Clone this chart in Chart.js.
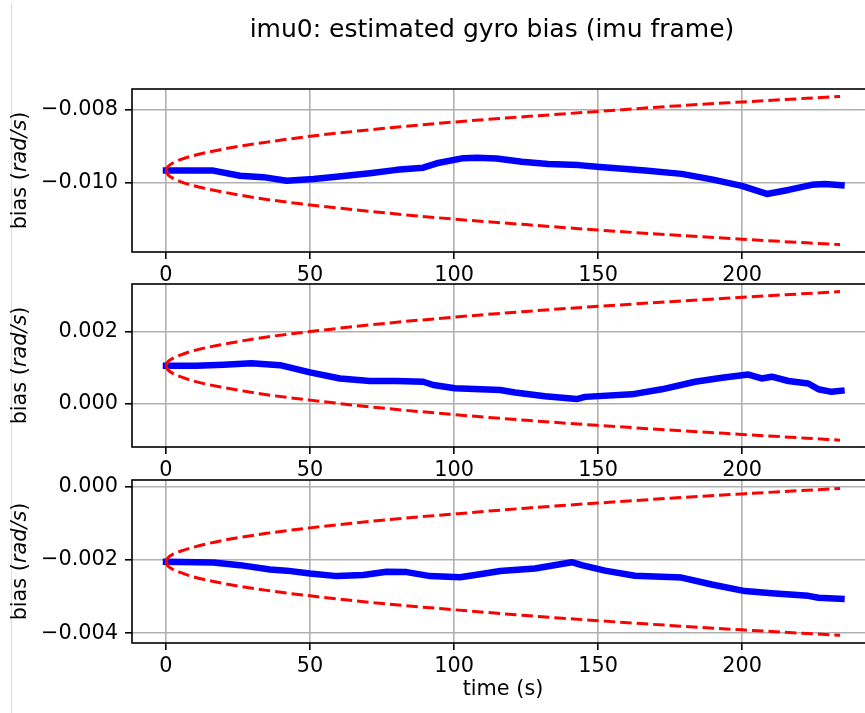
<!DOCTYPE html>
<html>
<head>
<meta charset="utf-8">
<script src="https://cdn.jsdelivr.net/npm/chart.js@4.4.1/dist/chart.umd.min.js"></script>
<style>
  html, body { margin: 0; padding: 0; background: #fff; overflow: hidden; }
  #wrap { position: relative; width: 865px; height: 713px; overflow: hidden; }
  #wrap canvas { position: absolute; left: 0; top: 0; }
  #edge { position: absolute; left: 11px; top: 3px; width: 0; height: 710px; border-left: 1px solid #dcdcdc; }
</style>
</head>
<body>
<div id="wrap">
  <div id="edge"></div>
  <canvas id="c1" width="900" height="713"></canvas>
  <canvas id="c2" width="900" height="713"></canvas>
  <canvas id="c3" width="900" height="713"></canvas>
</div>
<script>
// x ticks shared by all panels
const xTicks = [0, 50, 100, 150, 200];

// panel 1 - estimated bias (x)
const t1 = [0, 8, 16.4, 25.7, 33.8, 41.9, 51.2, 60, 70.8, 80.1, 89.3, 94, 103.2, 108, 114.8, 123.5, 132.7, 143.2, 150.7, 166.3, 179, 189.5, 199.9, 208.6, 216.1, 224.2, 228.8, 234.5];
const bias1 = [-0.00966, -0.00966, -0.00966, -0.00980, -0.00984, -0.00994, -0.00989, -0.00982, -0.00973, -0.00964, -0.00958, -0.00946, -0.00932, -0.00931, -0.00933, -0.00942, -0.00948, -0.00951, -0.00956, -0.00966, -0.00975, -0.00990, -0.01008, -0.01030, -0.01019, -0.01005, -0.01003, -0.01006];

// panel 2 - estimated bias (y)
const t2 = [0, 10.6, 20, 29.7, 39.6, 50, 60.4, 70.8, 80, 89.3, 92.8, 100.3, 116, 121.2, 131.6, 142.6, 145.5, 161.7, 172.1, 183.7, 193, 202.2, 206.8, 210.3, 216.1, 223, 226.5, 231.1, 234.5];
const bias2 = [0.00106, 0.00106, 0.00109, 0.00113, 0.00108, 0.00088, 0.00071, 0.00064, 0.00064, 0.00062, 0.00053, 0.00044, 0.00039, 0.00032, 0.00022, 0.00014, 0.00020, 0.00027, 0.00041, 0.00062, 0.00073, 0.00082, 0.00071, 0.00076, 0.00064, 0.00057, 0.00041, 0.00034, 0.00037];

// panel 3 - estimated bias (z)
const t3 = [0, 16.4, 25.7, 36.1, 41.9, 50, 59.3, 68.5, 76.6, 83.6, 91.7, 102.1, 109, 116, 128.1, 140.9, 144.3, 152.4, 162.8, 179, 189.5, 201, 210.3, 223, 226.5, 234.5];
const bias3 = [-0.00205, -0.00207, -0.00214, -0.00226, -0.00229, -0.00237, -0.00244, -0.00241, -0.00232, -0.00233, -0.00244, -0.00247, -0.00239, -0.00230, -0.00223, -0.00206, -0.00214, -0.00229, -0.00243, -0.00248, -0.00267, -0.00285, -0.00291, -0.00298, -0.00303, -0.00306];

// 3-sigma envelopes (red dashed)
const envT = [0, 0.5, 2, 5, 10, 20, 35, 50, 75, 100, 125, 150, 175, 200, 234];
const up1 = [-0.00966, -0.00957, -0.00947, -0.00936, -0.00924, -0.00907, -0.00888, -0.00872, -0.00851, -0.00833, -0.00818, -0.00804, -0.00790, -0.00778, -0.00763];
const lo1 = [-0.00966, -0.00975, -0.00985, -0.00996, -0.01008, -0.01025, -0.01045, -0.01060, -0.01081, -0.01099, -0.01114, -0.01129, -0.01142, -0.01154, -0.01169];
const up2 = [0.00106, 0.00116, 0.00125, 0.00136, 0.00149, 0.00166, 0.00186, 0.00201, 0.00223, 0.00241, 0.00257, 0.00271, 0.00284, 0.00296, 0.00312];
const lo2 = [0.00106, 0.00097, 0.00087, 0.00076, 0.00063, 0.00046, 0.00026, 0.00011, -0.00011, -0.00029, -0.00045, -0.00059, -0.00072, -0.00084, -0.00100];
const up3 = [-0.00205, -0.00196, -0.00186, -0.00176, -0.00164, -0.00146, -0.00127, -0.00112, -0.00091, -0.00074, -0.00058, -0.00044, -0.00031, -0.00019, -0.00004];
const lo3 = [-0.00205, -0.00214, -0.00224, -0.00234, -0.00247, -0.00264, -0.00283, -0.00298, -0.00319, -0.00336, -0.00352, -0.00366, -0.00379, -0.00391, -0.00406];

const yTicks1 = [-0.010, -0.008];
const yTicks2 = [0.000, 0.002];
const yTicks3 = [-0.004, -0.002, 0.000];

Chart.defaults.font.family = "'DejaVu Sans', sans-serif";
Chart.defaults.font.size = 20.8;
Chart.defaults.color = '#000';

const FONT = "'DejaVu Sans', sans-serif";
const fmt = v => v.toFixed(3).replace('-', '\u2212');
const pts = (xs, ys) => xs.map((x, i) => ({ x: x, y: ys[i] }));

// frame + labels drawn on top
const decor = {
    id: 'decor',
    afterDraw(chart, args, opts) {
        const ctx = chart.ctx;
        const a = chart.chartArea;
        ctx.save();
        ctx.strokeStyle = '#000';
        ctx.lineWidth = 1.6;
        ctx.strokeRect(a.left, a.top, a.right - a.left, a.bottom - a.top);

        // y label: bias (rad/s) with italic unit
        ctx.fillStyle = '#000';
        ctx.textBaseline = 'middle';
        ctx.translate(21, (a.top + a.bottom) / 2);
        ctx.rotate(-Math.PI / 2);
        const parts = [['bias (', '20.8px ' + FONT], ['rad/s', 'italic 20.8px ' + FONT], [')', '20.8px ' + FONT]];
        let w = 0;
        parts.forEach(p => { ctx.font = p[1]; w += ctx.measureText(p[0]).width; });
        let x = -w / 2;
        ctx.textAlign = 'left';
        parts.forEach(p => { ctx.font = p[1]; ctx.fillText(p[0], x, 0); x += ctx.measureText(p[0]).width; });
        ctx.restore();

        (opts.texts || []).forEach(tx => {
            ctx.save();
            ctx.font = tx.size + 'px ' + FONT;
            ctx.fillStyle = '#000';
            ctx.textAlign = 'center';
            ctx.textBaseline = 'middle';
            ctx.fillText(tx.text, tx.x, tx.y);
            ctx.restore();
        });
    }
};

function panel(id, top, bottom, t, bias, up, lo, yMin, yMax, yTicks, texts) {
    const red = {
        borderColor: '#ff0000', borderWidth: 3, borderDash: [11.5, 5],
        pointRadius: 0, fill: false, cubicInterpolationMode: 'monotone'
    };
    new Chart(document.getElementById(id), {
        type: 'line',
        data: {
            datasets: [
                Object.assign({ data: pts(envT, up) }, red),
                Object.assign({ data: pts(envT, lo) }, red),
                {
                    data: pts(t, bias), borderColor: '#0000ff', borderWidth: 6.5,
                    pointRadius: 0, fill: false, borderCapStyle: 'square', borderJoinStyle: 'round'
                }
            ]
        },
        options: {
            responsive: false,
            animation: false,
            events: [],
            layout: { padding: { top: top, bottom: 713 - bottom - 40, left: 0, right: 26 } },
            plugins: {
                legend: { display: false },
                tooltip: { enabled: false },
                decor: { texts: texts }
            },
            scales: {
                x: {
                    type: 'linear', min: -11.8, max: 245.8,
                    afterBuildTicks: s => { s.ticks = xTicks.map(v => ({ value: v })); },
                    afterFit: s => { s.height = 40; },
                    ticks: { padding: 4, maxRotation: 0, callback: v => String(v) },
                    grid: { color: '#b0b0b0', lineWidth: 1.6, tickLength: 7, tickColor: '#000', tickWidth: 1.6 },
                    border: { display: false }
                },
                y: {
                    type: 'linear', min: yMin, max: yMax,
                    afterBuildTicks: s => { s.ticks = yTicks.map(v => ({ value: v })); },
                    afterFit: s => { s.width = 132; },
                    ticks: { padding: 7, callback: v => fmt(v) },
                    grid: { color: '#b0b0b0', lineWidth: 1.6, tickLength: 7, tickColor: '#000', tickWidth: 1.6 },
                    border: { display: false }
                }
            }
        },
        plugins: [decor]
    });
}

panel('c1', 89, 252, t1, bias1, up1, lo1, -0.01189, -0.007425, yTicks1,
    [{ text: 'imu0: estimated gyro bias (imu frame)', x: 492, y: 30, size: 25 }]);
panel('c2', 284, 447, t2, bias2, up2, lo2, -0.00119, 0.00333, yTicks2, []);
panel('c3', 480, 643, t3, bias3, up3, lo3, -0.00427, 0.00019, yTicks3,
    [{ text: 'time (s)', x: 503, y: 690, size: 20.8 }]);
</script>
</body>
</html>
